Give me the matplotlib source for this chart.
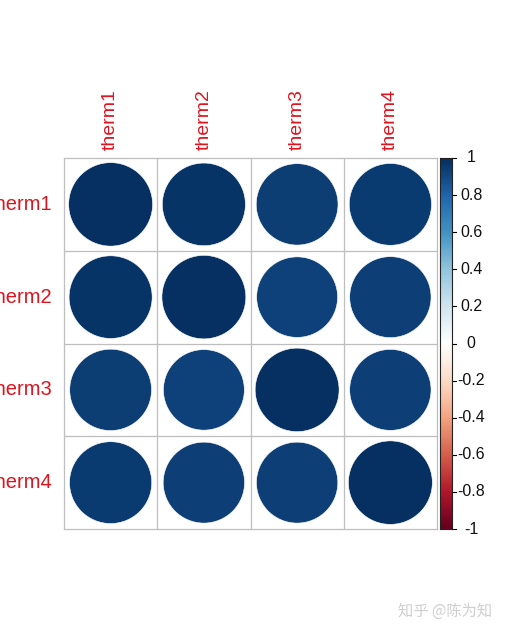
import numpy as np
import matplotlib.pyplot as plt
from matplotlib.colors import LinearSegmentedColormap
from matplotlib.patches import Circle

# correlation matrix
labels = ["therm1", "therm2", "therm3", "therm4"]
corr = np.array([
    [1.00, 0.98, 0.95, 0.96],
    [0.98, 1.00, 0.93, 0.94],
    [0.95, 0.93, 1.00, 0.94],
    [0.96, 0.94, 0.94, 1.00],
])
cbar_ticks = [-1, -0.8, -0.6, -0.4, -0.2, 0, 0.2, 0.4, 0.6, 0.8, 1]

# corrplot's RdBu ramp
cmap = LinearSegmentedColormap.from_list("corr", [
    "#67001F", "#B2182B", "#D6604D", "#F4A582", "#FDDBC7", "#FFFFFF",
    "#D1E5F0", "#92C5DE", "#4393C3", "#2166AC", "#053061"])

W, H = 507, 635
fig = plt.figure(figsize=(W / 100, H / 100), dpi=100)
plt.rcParams['font.family'] = ['Liberation Sans', 'DejaVu Sans']

def px(l, t, r, b):
    return [l / W, 1 - b / H, (r - l) / W, (b - t) / H]

ax = fig.add_axes(px(64, 158, 437, 529))
n = len(labels)
ax.set_xlim(0.5, n + 0.5)
ax.set_ylim(n + 0.5, 0.5)
ax.axis("off")

for i in range(n):
    for j in range(n):
        r = corr[i, j]
        ax.add_patch(Circle((j + 1, i + 1), 0.9 * np.sqrt(abs(r)) / 2,
                            facecolor=cmap((r + 1) / 2), edgecolor="white", lw=0.4))

for k in range(n + 1):
    ax.plot([0.5, n + 0.5], [k + 0.5, k + 0.5], color="#bebebe", lw=0.9, clip_on=False)
    ax.plot([k + 0.5, k + 0.5], [0.5, n + 0.5], color="#bebebe", lw=0.9, clip_on=False)

for k, lab in enumerate(labels):
    ax.text(k + 1, 0.5 - 0.09, lab, rotation=90, ha="center", va="bottom",
            color="#E0141E", fontsize=14)
    ax.text(0.5 - 0.12, k + 1, lab, ha="right", va="center",
            color="#E0141E", fontsize=14.5)

# colour legend
cax = fig.add_axes(px(440, 158, 452, 529))
grad = np.linspace(-1, 1, 200).reshape(-1, 1)
cax.imshow(grad, cmap=cmap, aspect="auto", origin="lower", extent=[0, 1, -1, 1])
cax.set_xlim(0, 1)
cax.set_xticks([])
cax.set_yticks([])
for s in cax.spines.values():
    s.set_linewidth(0.8)
    s.set_color("#222222")
for t in cbar_ticks:
    cax.plot([1, 1.35], [t, t], color="black", lw=0.8, clip_on=False)
    cax.text(2.6, t, f"{t:g}", ha="center", va="center", fontsize=11.5,
             color="#111111")

fig.text(492 / W, 1 - 611 / H, "知乎 @陈为知", ha="right", va="center",
         fontsize=11, color="#cfcfcf", family=["Noto Sans CJK SC", "DejaVu Sans"])

fig.savefig("out.png", dpi=100, facecolor="white")
